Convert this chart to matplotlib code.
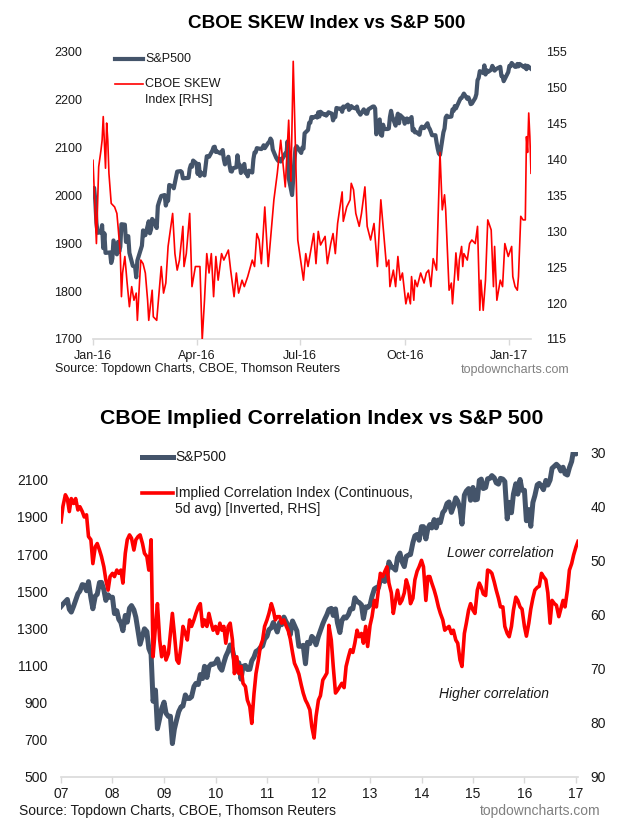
import pandas as pd
import matplotlib
matplotlib.use('Agg')
import matplotlib.pyplot as plt
import matplotlib.dates as mdates
from matplotlib.lines import Line2D
from pandas.tseries.offsets import CustomBusinessDay

plt.rcParams['font.family'] = ['Liberation Sans', 'DejaVu Sans']

NAVY = '#44546A'
RED = '#FF0000'
AXIS_GREY = '#D9D9D9'
TEXT = '#1a1a1a'

# ---------------------------------------------------------------
# Chart 1 data: S&P 500 daily closes (Jan-2016 .. Jan-2017) and SKEW
# ---------------------------------------------------------------
nyse_holidays = ['2016-01-18', '2016-02-15', '2016-03-25', '2016-05-30', '2016-07-04',
                 '2016-09-05', '2016-11-24', '2016-12-26', '2017-01-02', '2017-01-16']

spx_2016 = [
    # Jan
    2012, 2016, 1990, 1943, 1922, 1923, 1938, 1890, 1921, 1880, 1881, 1859, 1868, 1906, 1877, 1903, 1882, 1893, 1940,
    # Feb
    1939, 1903, 1912, 1915, 1880, 1853, 1852, 1851, 1829, 1864, 1895, 1927, 1917, 1917, 1946, 1921, 1929, 1951, 1948, 1932,
    # Mar
    1978, 1986, 1993, 1999, 2001, 1979, 1989, 1989, 2022, 2019, 2015, 2027, 2040, 2050, 2051, 2049, 2036, 2036, 2037, 2056, 2064, 2060,
    # Apr
    2073, 2067, 2045, 2066, 2041, 2048, 2042, 2062, 2082, 2082, 2081, 2094, 2101, 2102, 2091, 2092, 2088, 2091, 2095, 2076, 2065,
    # May
    2081, 2063, 2051, 2050, 2057, 2059, 2084, 2065, 2064, 2047, 2066, 2047, 2048, 2040, 2052, 2048, 2076, 2090, 2090, 2099, 2097,
    # Jun
    2100, 2105, 2099, 2110, 2112, 2119, 2115, 2096, 2079, 2075, 2072, 2077, 2071, 2083, 2088, 2085, 2113, 2037, 2001, 2036, 2071, 2099,
    # Jul
    2103, 2089, 2100, 2098, 2130, 2137, 2152, 2152, 2164, 2162, 2166, 2163, 2174, 2165, 2175, 2169, 2170, 2167, 2170, 2174,
    # Aug
    2171, 2157, 2164, 2164, 2183, 2181, 2182, 2175, 2186, 2184, 2190, 2179, 2182, 2187, 2184, 2182, 2186, 2176, 2173, 2169, 2180, 2176, 2171,
    # Sep
    2171, 2180, 2186, 2186, 2182, 2128, 2159, 2127, 2125, 2148, 2139, 2139, 2140, 2164, 2177, 2165, 2146, 2160, 2171, 2151, 2168,
    # Oct
    2161, 2150, 2160, 2161, 2153, 2164, 2136, 2139, 2132, 2133, 2127, 2140, 2144, 2141, 2141, 2151, 2143, 2139, 2133, 2126, 2126,
    # Nov
    2111, 2098, 2088, 2085, 2132, 2140, 2163, 2167, 2164, 2165, 2180, 2177, 2187, 2182, 2198, 2203, 2204, 2213, 2202, 2205, 2199,
    # Dec
    2191, 2192, 2204, 2212, 2241, 2246, 2260, 2256, 2272, 2253, 2262, 2258, 2263, 2271, 2266, 2261, 2264, 2269, 2250, 2249, 2239,
    # Jan 2017
    2258, 2271, 2270, 2277, 2269, 2269, 2275, 2270, 2275, 2268, 2272, 2264, 2271, 2265,
]

skew_dates = [
    '2016-01-04', '2016-01-07', '2016-01-09', '2016-01-11', '2016-01-12', '2016-01-13', '2016-01-15', '2016-01-16',
    '2016-01-17', '2016-01-18', '2016-01-20', '2016-01-23', '2016-01-25', '2016-01-26', '2016-01-28', '2016-01-29',
    '2016-01-30', '2016-02-01', '2016-02-03', '2016-02-05', '2016-02-07', '2016-02-09', '2016-02-11', '2016-02-12',
    '2016-02-15', '2016-02-17', '2016-02-19', '2016-02-21', '2016-02-22', '2016-02-25', '2016-02-26', '2016-02-29',
    '2016-03-04', '2016-03-06', '2016-03-08', '2016-03-10', '2016-03-14', '2016-03-16', '2016-03-18', '2016-03-20',
    '2016-03-23', '2016-03-24', '2016-03-26', '2016-03-29', '2016-03-31', '2016-04-03', '2016-04-07', '2016-04-09',
    '2016-04-11', '2016-04-13', '2016-04-15', '2016-04-17', '2016-04-19', '2016-04-21', '2016-04-23', '2016-04-26',
    '2016-04-28', '2016-05-02', '2016-05-04', '2016-05-07', '2016-05-09', '2016-05-11', '2016-05-14', '2016-05-16',
    '2016-05-19', '2016-05-23', '2016-05-25', '2016-05-27', '2016-05-29', '2016-05-31', '2016-06-03', '2016-06-06',
    '2016-06-11', '2016-06-14', '2016-06-17', '2016-06-21', '2016-06-24', '2016-06-26', '2016-06-28', '2016-07-02',
    '2016-07-07', '2016-07-09', '2016-07-11', '2016-07-16', '2016-07-18', '2016-07-20', '2016-07-22', '2016-07-26',
    '2016-07-28', '2016-07-31', '2016-08-02', '2016-08-04', '2016-08-06', '2016-08-10', '2016-08-11', '2016-08-14',
    '2016-08-17', '2016-08-18', '2016-08-20', '2016-08-22', '2016-08-25', '2016-08-27', '2016-08-30', '2016-09-01',
    '2016-09-04', '2016-09-07', '2016-09-10', '2016-09-13', '2016-09-15', '2016-09-18', '2016-09-20', '2016-09-21',
    '2016-09-24', '2016-09-26', '2016-09-28', '2016-09-30', '2016-10-02', '2016-10-05', '2016-10-07', '2016-10-09',
    '2016-10-10', '2016-10-12', '2016-10-13', '2016-10-15', '2016-10-18', '2016-10-21', '2016-10-23', '2016-10-25',
    '2016-10-27', '2016-10-29', '2016-11-01', '2016-11-04', '2016-11-06', '2016-11-08', '2016-11-09', '2016-11-12',
    '2016-11-14', '2016-11-15', '2016-11-17', '2016-11-18', '2016-11-20', '2016-11-21', '2016-11-23', '2016-11-24',
    '2016-11-25', '2016-11-28', '2016-11-30', '2016-12-02', '2016-12-05', '2016-12-07', '2016-12-09', '2016-12-10',
    '2016-12-12', '2016-12-14', '2016-12-16', '2016-12-19', '2016-12-21', '2016-12-22', '2016-12-24', '2016-12-27',
    '2016-12-29', '2016-12-31', '2017-01-03', '2017-01-06', '2017-01-07', '2017-01-09', '2017-01-11', '2017-01-12',
    '2017-01-14', '2017-01-16', '2017-01-18', '2017-01-19', '2017-01-20', '2017-01-21', '2017-01-22', '2017-01-23',
]
skew_values = [
    139.9, 128.3, 139.0, 141.3, 142.7, 146.0, 138.8, 145.1,
    142.7, 138.1, 133.9, 133.4, 132.5, 130.7, 126.9, 120.9,
    124.2, 126.5, 122.8, 119.5, 122.3, 120.4, 121.4, 117.6,
    126.0, 125.5, 124.2, 120.4, 117.6, 121.8, 118.1, 117.6,
    125.1, 121.4, 122.8, 127.9, 132.5, 126.9, 124.6, 126.0,
    130.7, 125.1, 126.9, 132.5, 122.3, 125.1, 125.1, 114.9,
    120.4, 126.9, 124.2, 126.9, 120.9, 126.5, 123.2, 126.9,
    126.0, 127.4, 124.6, 120.9, 124.2, 121.4, 123.2, 122.3,
    123.7, 126.0, 125.1, 129.7, 128.8, 125.5, 133.4, 125.1,
    134.4, 138.1, 142.7, 136.2, 145.5, 137.0, 153.7, 128.8,
    123.2, 126.9, 125.1, 129.7, 125.5, 130.0, 128.1, 129.3,
    125.5, 128.3, 129.7, 126.9, 131.1, 135.5, 131.4, 133.4,
    134.4, 136.7, 135.8, 132.5, 130.7, 132.5, 136.2, 130.7,
    128.8, 131.1, 125.1, 134.4, 130.7, 125.1, 126.0, 122.3,
    124.6, 122.3, 126.5, 123.2, 124.2, 119.9, 121.4, 119.9,
    123.7, 120.4, 123.2, 122.3, 124.2, 122.8, 124.2, 124.6,
    122.3, 126.2, 124.6, 141.0, 133.0, 135.1, 133.0, 121.8,
    122.8, 119.9, 124.2, 127.0, 123.2, 126.0, 127.9, 125.1,
    126.9, 126.0, 128.3, 128.8, 128.3, 130.7, 119.0, 123.2,
    119.0, 123.2, 131.6, 130.2, 122.3, 127.9, 120.4, 123.2,
    122.3, 128.3, 126.5, 127.9, 123.7, 122.3, 121.8, 123.7,
    132.1, 131.6, 131.6, 143.2, 141.0, 146.5, 143.2, 138.1,
]

top_ticks = ['2016-01-04', '2016-04-04', '2016-07-04', '2016-10-04', '2017-01-04']

# ---------------------------------------------------------------
# Chart 2 data: semi-monthly S&P 500 and implied correlation, 2007-2017
# ---------------------------------------------------------------
spx_long = [
    1418, 1431, 1445, 1456, 1403, 1388, 1421, 1452, 1487, 1501, 1536, 1533, 1503, 1552, 1465, 1406, 1474, 1484, 1547, 1548, 1508, 1451, 1481, 1467,
    1468, 1380, 1395, 1349, 1331, 1288, 1370, 1334, 1409, 1423, 1400, 1360, 1284, 1215, 1260, 1298, 1283, 1192, 1161, 908, 968, 760, 816, 868,
    903, 843, 826, 827, 680, 757, 811, 852, 877, 882, 942, 923, 923, 932, 987, 1004, 998, 1052, 1030, 1096, 1036, 1093, 1108, 1107,
    1115, 1136, 1089, 1075, 1115, 1150, 1178, 1211, 1187, 1135, 1070, 1115, 1027, 1096, 1101, 1079, 1080, 1125, 1146, 1176, 1184, 1197, 1206, 1242,
    1258, 1293, 1304, 1332, 1306, 1281, 1332, 1320, 1361, 1338, 1315, 1266, 1340, 1316, 1287, 1204, 1204, 1209, 1110, 1225, 1218, 1257, 1244, 1212,
    1258, 1289, 1325, 1350, 1374, 1402, 1408, 1370, 1405, 1330, 1278, 1342, 1362, 1356, 1375, 1405, 1406, 1465, 1444, 1440, 1427, 1353, 1416, 1413,
    1426, 1472, 1513, 1520, 1518, 1560, 1562, 1553, 1582, 1658, 1631, 1626, 1614, 1682, 1706, 1661, 1633, 1688, 1695, 1698, 1762, 1798, 1806, 1775,
    1848, 1848, 1782, 1838, 1859, 1841, 1886, 1842, 1884, 1870, 1924, 1937, 1973, 1981, 1925, 1955, 2003, 1985, 1946, 1862, 2018, 2040, 2053, 1990,
    2059, 1992, 1995, 2097, 2104, 2053, 2059, 2106, 2108, 2123, 2111, 2084, 2077, 2108, 2104, 2091, 1890, 1979, 1923, 2023, 2079, 2023, 2102, 2044,
    2044, 1880, 1940, 1850, 1978, 2015, 2073, 2081, 2065, 2047, 2097, 2072, 2099, 2162, 2174, 2184, 2171, 2148, 2168, 2133, 2126, 2165, 2199, 2262,
    2239, 2275,
]

implied_corr = [
    42.9, 40.0, 37.9, 38.6, 41.0, 38.6, 39.5, 38.6, 40.7, 40.1, 41.0, 42.0, 41.6,
    45.6, 46.2, 50.6, 47.5, 46.9, 48.1, 49.3, 51.2, 53.6, 55.5, 53.0, 52.4, 53.0, 51.8, 52.4, 51.8, 54.2,
    48.7, 46.2, 45.3, 45.9, 48.1, 46.2, 45.6, 45.3, 46.9, 48.7, 49.3, 51.8, 46.2,
    67.8, 62.2, 58.0, 64.7, 67.8, 65.9, 68.4, 67.2, 63.5, 59.8, 63.5, 68.4, 69.0, 65.9, 62.2, 63.5, 64.7,
    61.0, 62.2, 61.0, 59.8, 58.6, 58.0, 62.2, 61.0, 62.2, 59.8, 61.6, 62.9, 62.2, 63.5, 61.6, 62.9, 62.2, 65.3, 62.2, 61.6, 64.7,
    70.9, 67.8, 70.9, 69.6, 72.7, 73.3, 75.8, 77.0, 80.1, 74.6, 70.9, 68.4, 65.9, 64.7, 62.2, 61.0, 59.8, 58.0, 59.2,
    61.0, 60.4, 60.4, 61.6, 61.0,
    62.0, 63.0, 64.5, 67.0, 69.0, 70.0, 71.0, 73.0, 74.5, 75.8, 76.5, 77.6, 80.7, 82.8, 78.8, 75.8,
    75.0, 72.1, 71.5, 70.8, 62.0, 64.7, 69.6, 74.5, 74.0, 73.3, 72.7, 73.5, 69.6, 67.8, 66.5,
    67.0, 65.3, 62.9, 64.1, 63.5, 65.3, 62.2, 65.9, 62.0, 60.4, 57.4, 58.6, 55.5, 52.4, 53.0, 52.1,
    51.2, 54.2, 56.0, 59.8, 57.4, 55.5, 58.0, 57.4, 56.0, 53.6, 55.0, 58.0, 57.0, 53.6, 52.0, 51.2,
    50.0, 51.2, 57.4, 53.0, 53.0, 54.2, 55.5, 56.8, 58.6, 59.8, 61.0, 62.9, 62.5, 62.2, 63.5, 62.9,
    64.7, 65.3, 68.4, 69.6, 63.5, 61.6, 59.2, 58.0, 59.2, 59.8, 55.5, 54.2, 55.0, 56.2, 56.5, 51.8,
    52.0, 52.4, 54.0, 55.5, 57.0, 58.6, 58.6, 62.2, 63.5, 64.1, 62.2, 59.2, 56.8, 57.4, 58.6, 59.0,
    62.2, 64.0, 61.6, 59.0, 57.0, 55.5, 55.0, 54.8, 52.4, 53.0, 53.6, 56.0, 61.6, 57.4, 58.0, 58.3,
    60.4, 59.0, 57.4, 58.6, 55.5, 51.8, 50.6, 49.0, 47.5, 46.5,
]

W, H = 622, 826


def fx(px):
    return px / W


def fy(py):
    return 1 - py / H


def style_axes(ax, label_size, ypad):
    for side in ['top', 'left', 'right']:
        ax.spines[side].set_visible(False)
    ax.spines['bottom'].set_color(AXIS_GREY)
    ax.spines['bottom'].set_linewidth(1.2)
    ax.tick_params(axis='y', length=0, pad=ypad, labelsize=label_size, labelcolor=TEXT)
    ax.tick_params(axis='x', length=4, width=1, color=AXIS_GREY, labelsize=label_size, labelcolor=TEXT)
    ax.patch.set_alpha(0)


fig = plt.figure(figsize=(W / 100, H / 100), dpi=100)

# -----------------------------------------------------------------
# CHART 1: CBOE SKEW vs S&P 500
# -----------------------------------------------------------------
spx_dates = pd.date_range('2016-01-04', periods=len(spx_2016),
                          freq=CustomBusinessDay(holidays=nyse_holidays))
skew_dt = pd.to_datetime(skew_dates)

ax1 = fig.add_axes([fx(93), fy(339), fx(531) - fx(93), fy(52) - fy(339)])
ax1.plot(spx_dates, spx_2016, color=NAVY, lw=3.0, solid_joinstyle='round')
ax1.set_ylim(1700, 2300)
ax1.set_yticks(range(1700, 2301, 100))
ax1.set_xlim(pd.Timestamp('2016-01-04'), pd.Timestamp('2017-01-23'))
ax1.set_xticks(pd.to_datetime(top_ticks))
ax1.xaxis.set_major_formatter(mdates.DateFormatter('%b-%y'))
style_axes(ax1, 9, 8)
ax1.tick_params(axis='x', pad=4)

ax1r = ax1.twinx()
ax1r.plot(skew_dt, skew_values, color=RED, lw=1.2)
ax1r.set_ylim(115, 155)
ax1r.set_yticks(range(115, 156, 5))
style_axes(ax1r, 9, 11)
ax1r.spines['bottom'].set_visible(False)

fig.text(fx(327), fy(23), 'CBOE SKEW Index vs S&P 500', ha='center', va='center',
         fontsize=13.6, fontweight='bold', color='black')

fig.add_artist(Line2D([fx(115), fx(143)], [fy(59), fy(59)], color=NAVY, lw=3.0))
fig.text(fx(145), fy(59), 'S&P500', ha='left', va='center', fontsize=9, color=TEXT)
fig.add_artist(Line2D([fx(115), fx(143)], [fy(84), fy(84)], color=RED, lw=1.2))
fig.text(fx(145), fy(92), 'CBOE SKEW\nIndex [RHS]', ha='left', va='center', fontsize=9,
         color=TEXT, linespacing=1.35)

fig.text(fx(55), fy(369), 'Source: Topdown Charts, CBOE, Thomson Reuters', ha='left', va='center',
         fontsize=9, color=TEXT)
fig.text(fx(569), fy(370), 'topdowncharts.com', ha='right', va='center', fontsize=9, color='#808080')

# -----------------------------------------------------------------
# CHART 2: CBOE Implied Correlation vs S&P 500
# -----------------------------------------------------------------
long_dates = pd.date_range('2007-01-01', periods=len(spx_long), freq='SMS')

ax2 = fig.add_axes([fx(61), fy(777), fx(578) - fx(61), fy(452) - fy(777)])
ax2.plot(long_dates, spx_long, color=NAVY, lw=3.6, solid_joinstyle='round')
ax2.set_ylim(500, 2250)
ax2.set_yticks(range(500, 2101, 200))
ax2.set_xlim(pd.Timestamp('2007-01-01'), pd.Timestamp('2017-01-15'))
ax2.set_xticks(pd.date_range('2007-01-01', '2017-01-01', freq='YS'))
ax2.xaxis.set_major_formatter(mdates.DateFormatter('%y'))
style_axes(ax2, 10, 9.5)
ax2.tick_params(axis='x', pad=3)

ax2r = ax2.twinx()
ax2r.plot(long_dates, implied_corr, color=RED, lw=2.6, solid_joinstyle='round')
ax2r.set_ylim(90, 30)
ax2r.set_yticks(range(30, 91, 10))
style_axes(ax2r, 10, 9)
ax2r.spines['bottom'].set_visible(False)

fig.text(fx(322), fy(419), 'CBOE Implied Correlation Index vs S&P 500', ha='center', va='center',
         fontsize=15.3, fontweight='bold', color='black')

fig.add_artist(Line2D([fx(142), fx(173)], [fy(457), fy(457)], color=NAVY, lw=3.6))
fig.text(fx(175), fy(457), 'S&P500', ha='left', va='center', fontsize=10, color=TEXT)
fig.add_artist(Line2D([fx(142), fx(173)], [fy(493), fy(493)], color=RED, lw=2.6))
fig.text(fx(175), fy(501), 'Implied Correlation Index (Continuous,\n5d avg) [Inverted, RHS]',
         ha='left', va='center', fontsize=10, color=TEXT, linespacing=1.25)

fig.text(fx(500), fy(553), 'Lower correlation', ha='center', va='center', fontsize=10,
         style='italic', color=TEXT)
fig.text(fx(494), fy(694), 'Higher correlation', ha='center', va='center', fontsize=10,
         style='italic', color=TEXT)

fig.text(fx(19), fy(811), 'Source: Topdown Charts, CBOE, Thomson Reuters', ha='left', va='center',
         fontsize=10, color=TEXT)
fig.text(fx(600), fy(811), 'topdowncharts.com', ha='right', va='center', fontsize=10, color='#808080')

fig.savefig('out.png', dpi=100, facecolor='white')
print('Saved out.png')
